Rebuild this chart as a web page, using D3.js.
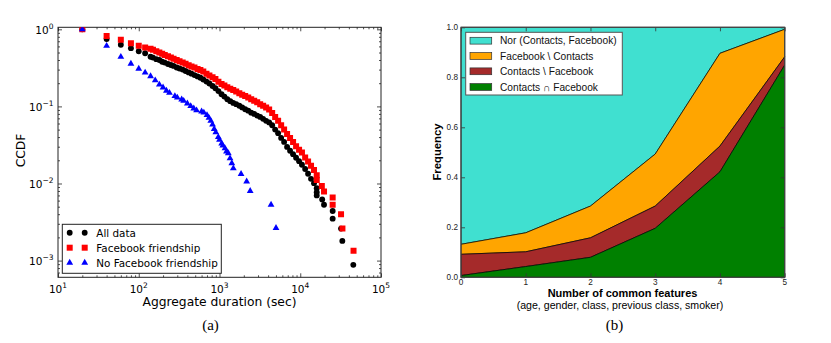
<!DOCTYPE html>
<html><head><meta charset="utf-8">
<script src="https://cdn.jsdelivr.net/npm/d3@7"></script>
<style>body{margin:0;background:#fff}svg{display:block}</style>
</head><body><svg id="c" width="831" height="343"></svg>
<script>
// ---------- Panel (a): CCDF of aggregate contact duration ----------
const allData = [[20,1.0],[40,0.75],[60,0.63],[80,0.57],[100,0.52],[120,0.49],[140,0.44],[150,0.43],[165,0.41],[180,0.40],[195,0.38],[210,0.37],[230,0.355],[250,0.345],[270,0.335],[295,0.32],[320,0.31],[350,0.30],[380,0.288],[415,0.276],[450,0.266],[490,0.255],[535,0.245],[580,0.235],[630,0.223],[690,0.21],[750,0.198],[820,0.184],[890,0.172],[970,0.158],[1060,0.144],[1150,0.134],[1250,0.124],[1360,0.117],[1480,0.111],[1610,0.107],[1760,0.102],[1910,0.097],[2080,0.092],[2270,0.088],[2470,0.083],[2690,0.080],[2930,0.076],[3190,0.073],[3470,0.069],[3780,0.065],[4120,0.062],[4490,0.057],[4890,0.050],[5320,0.045],[5800,0.039],[6310,0.0346],[6870,0.0298],[7480,0.0266],[8150,0.024],[8880,0.0216],[9670,0.0195],[10500,0.0175],[11500,0.0154],[12500,0.0134],[13600,0.0115],[14800,0.0101],[16000,0.0087],[16000,0.0077],[16000,0.0070],[18700,0.0062],[19700,0.0053],[25200,0.0044],[25200,0.0035],[32000,0.0026],[33200,0.0018],[45400,0.00088]];
const facebookFriendship = [[20,1.0],[40,0.82],[60,0.73],[80,0.66],[100,0.61],[120,0.58],[140,0.56],[150,0.542],[165,0.521],[180,0.499],[195,0.481],[210,0.464],[230,0.448],[250,0.432],[270,0.416],[295,0.399],[320,0.386],[350,0.371],[380,0.357],[415,0.343],[450,0.330],[490,0.319],[535,0.306],[580,0.297],[630,0.284],[690,0.266],[750,0.252],[820,0.239],[890,0.227],[970,0.209],[1060,0.195],[1150,0.187],[1250,0.177],[1360,0.170],[1480,0.163],[1610,0.156],[1760,0.148],[1910,0.142],[2080,0.136],[2270,0.130],[2470,0.124],[2690,0.118],[2930,0.113],[3190,0.107],[3470,0.102],[3780,0.097],[4120,0.091],[4490,0.082],[4890,0.073],[5320,0.065],[5800,0.057],[6310,0.050],[6870,0.044],[7480,0.039],[8150,0.0345],[8880,0.0305],[9670,0.0275],[10500,0.0252],[11500,0.0217],[12500,0.0193],[13600,0.0170],[14800,0.0150],[16000,0.0128],[16000,0.0111],[18500,0.0093],[19700,0.0079],[25200,0.0066],[25200,0.0053],[32000,0.0040],[33300,0.0026],[45700,0.00134]];
const noFacebookFriendship = [[20,1.0],[40,0.61],[60,0.44],[80,0.358],[100,0.308],[120,0.274],[140,0.246],[160,0.218],[180,0.192],[200,0.176],[220,0.160],[240,0.150],[280,0.136],[300,0.130],[340,0.123],[360,0.118],[400,0.109],[440,0.101],[480,0.094],[520,0.089],[600,0.086],[640,0.083],[700,0.077],[740,0.071],[780,0.065],[820,0.058],[860,0.051],[900,0.046],[966,0.040],[1000,0.037],[1064,0.033],[1100,0.031],[1170,0.0286],[1220,0.026],[1285,0.0247],[1350,0.0212],[1420,0.0183],[1483,0.0157],[1850,0.0133],[2170,0.0106],[2400,0.0080],[4350,0.0053],[5010,0.00265]];
const xExponents = [1,2,3,4,5];
const yExponents = [0,-1,-2,-3];
const seriesA = ["All data","Facebook friendship","No Facebook friendship"];

// ---------- Panel (b): stacked frequencies ----------
const commonFeatures = [0,1,2,3,4,5];
const contactsAndFacebook = [0.007,0.043,0.080,0.196,0.422,0.849];
const contactsNotFacebook = [0.085,0.059,0.078,0.089,0.103,0.033];
const facebookNotContacts = [0.040,0.076,0.127,0.208,0.371,0.110];
const neitherContactsNorFacebook = commonFeatures.map((_,i)=>1-contactsAndFacebook[i]-contactsNotFacebook[i]-facebookNotContacts[i]);
const seriesB = ["Nor (Contacts, Facebook)","Facebook \\ Contacts","Contacts \\ Facebook","Contacts \u2229 Facebook"];
const yTicksB = [0,0.2,0.4,0.6,0.8,1.0];

const svg = d3.select("#c");
const SANS = "DejaVu Sans, sans-serif";
const ARIAL = "Liberation Sans, Arial, sans-serif";

// ===== Panel (a) =====
const L = {x0:58, x1:381, y0:27.3, y1:277.3};
const xL = d3.scaleLog().domain([10,1e5]).range([L.x0,L.x1]);
const yL = d3.scaleLog().domain([0.000607,1.062]).range([L.y1,L.y0]);
const gA = svg.append("g");

function minors(lo,hi){const out=[];for(let e=-4;e<=5;e++)for(let k=2;k<=9;k++){const v=k*Math.pow(10,e);if(v>lo&&v<hi)out.push(v);}return out;}
const xMaj = xExponents.map(e=>Math.pow(10,e));
const yMaj = yExponents.map(e=>Math.pow(10,e));
const xMin = minors(10,1e5), yMin = minors(0.000607,1.062);

function drawAxis(g, axisFn, scale, vals, size, tf){
  const a = g.append("g").attr("transform",tf).call(axisFn(scale).tickValues(vals).tickSize(-size).tickSizeOuter(0).tickFormat(""));
  a.select(".domain").remove();
  a.selectAll("line").attr("stroke","#222").attr("stroke-width",0.8);
}
[[xMaj,4],[xMin,2]].forEach(([v,s])=>{
  drawAxis(gA,d3.axisBottom,xL,v,s,`translate(0,${L.y1})`);
  drawAxis(gA,d3.axisTop,xL,v,s,`translate(0,${L.y0})`);
});
[[yMaj,4],[yMin,2]].forEach(([v,s])=>{
  drawAxis(gA,d3.axisLeft,yL,v,s,`translate(${L.x0},0)`);
  drawAxis(gA,d3.axisRight,yL,v,s,`translate(${L.x1},0)`);
});
gA.append("rect").attr("x",L.x0).attr("y",L.y0).attr("width",L.x1-L.x0).attr("height",L.y1-L.y0)
  .attr("fill","none").attr("stroke","#222").attr("stroke-width",1);

function sup(t, exp){
  t.append("tspan").text("10");
  t.append("tspan").attr("dy",-5).attr("font-size",7.5).text(String(exp).replace("-","\u2212"));
}
xExponents.forEach(e=>{
  const t = gA.append("text").attr("x",xL(Math.pow(10,e))).attr("y",293).attr("text-anchor","middle")
    .attr("font-family",SANS).attr("font-size",10.5).attr("fill","#000");
  sup(t,e);
});
yExponents.forEach(e=>{
  const t = gA.append("text").attr("x",53.5).attr("y",yL(Math.pow(10,e))+4.5).attr("text-anchor","end")
    .attr("font-family",SANS).attr("font-size",10.5).attr("fill","#000");
  sup(t,e);
});
gA.append("text").attr("x",219.5).attr("y",305.5).attr("text-anchor","middle").attr("font-family",SANS)
  .attr("font-size",12.3).text("Aggregate duration (sec)");
gA.append("text").attr("transform","translate(25,150.5) rotate(-90)").attr("text-anchor","middle")
  .attr("font-family",SANS).attr("font-size",12.3).text("CCDF");
gA.append("text").attr("x",210.5).attr("y",330).attr("text-anchor","middle").attr("font-family","Liberation Serif, serif")
  .attr("font-size",15).text("(a)");

const clipA = svg.append("clipPath").attr("id","clipA").append("rect")
  .attr("x",L.x0).attr("y",L.y0).attr("width",L.x1-L.x0).attr("height",L.y1-L.y0);
const marks = gA.append("g").attr("clip-path","url(#clipA)");
const circ = d3.symbol(d3.symbolCircle, 27);
const sq = d3.symbol(d3.symbolSquare, 36);
const tri = d3.symbol(d3.symbolTriangle, 20);
const styles = [
  {data:allData, sym:circ, color:"#000000"},
  {data:facebookFriendship, sym:sq, color:"#ff0000"},
  {data:noFacebookFriendship, sym:tri, color:"#0000ff"}
];
styles.forEach(s=>{
  marks.append("g").selectAll("path").data(s.data).join("path")
    .attr("d",s.sym).attr("fill",s.color)
    .attr("transform",d=>`translate(${xL(d[0])},${yL(d[1])})`);
});
// legend (a)
const lg = gA.append("g");
lg.append("rect").attr("x",62.3).attr("y",224.3).attr("width",159).attr("height",49)
  .attr("fill","#fff").attr("stroke","#222").attr("stroke-width",1);
const legRowsA = [232.7,247.7,262.7];
styles.forEach((s,i)=>{
  [69.7,84.7].forEach(x=>lg.append("path").attr("d",s.sym).attr("fill",s.color)
    .attr("transform",`translate(${x},${legRowsA[i]})`));
  lg.append("text").attr("x",96.3).attr("y",legRowsA[i]+4).attr("font-family",SANS).attr("font-size",10.4)
    .text(seriesA[i]);
});

// ===== Panel (b) =====
const R = {x0:461, x1:784.7, y0:27.3, y1:277.3};
const xR = d3.scaleLinear().domain([0,5]).range([R.x0,R.x1]);
const yR = d3.scaleLinear().domain([0,1]).range([R.y1,R.y0]);
const gB = svg.append("g");
const table = commonFeatures.map((f,i)=>({f, both:contactsAndFacebook[i], cOnly:contactsNotFacebook[i], fOnly:facebookNotContacts[i], nor:neitherContactsNorFacebook[i]}));
const keys = ["both","cOnly","fOnly","nor"];
const colors = {both:"#008000", cOnly:"#a52a2a", fOnly:"#ffa500", nor:"#40e0d0"};
const stacked = d3.stack().keys(keys)(table);
const area = d3.area().x(d=>xR(d.data.f)).y0(d=>yR(d[0])).y1(d=>yR(d[1]));
gB.append("g").selectAll("path").data(stacked.slice().reverse()).join("path")
  .attr("d",area).attr("fill",d=>colors[d.key]).attr("stroke","#000").attr("stroke-width",0.7);

function drawAxisB(axisFn, scale, vals, tf){
  const a = gB.append("g").attr("transform",tf).call(axisFn(scale).tickValues(vals).tickSize(-4).tickSizeOuter(0).tickFormat(""));
  a.select(".domain").remove();
  a.selectAll("line").attr("stroke","#333").attr("stroke-width",0.8);
}
drawAxisB(d3.axisBottom,xR,commonFeatures,`translate(0,${R.y1})`);
drawAxisB(d3.axisTop,xR,commonFeatures,`translate(0,${R.y0})`);
drawAxisB(d3.axisLeft,yR,yTicksB,`translate(${R.x0},0)`);
drawAxisB(d3.axisRight,yR,yTicksB,`translate(${R.x1},0)`);
gB.append("rect").attr("x",R.x0).attr("y",R.y0).attr("width",R.x1-R.x0).attr("height",R.y1-R.y0)
  .attr("fill","none").attr("stroke","#444").attr("stroke-width",1.2);
yTicksB.forEach(v=>gB.append("text").attr("x",458).attr("y",yR(v)+3).attr("text-anchor","end")
  .attr("font-family",ARIAL).attr("font-size",8.2).attr("fill","#222").text(v.toFixed(1)));
commonFeatures.forEach(v=>gB.append("text").attr("x",xR(v)).attr("y",285.2).attr("text-anchor","middle")
  .attr("font-family",ARIAL).attr("font-size",8.2).attr("fill","#222").text(v));
gB.append("text").attr("x",622.5).attr("y",297.2).attr("text-anchor","middle").attr("font-family",ARIAL)
  .attr("font-weight","bold").attr("font-size",11).text("Number of common features");
gB.append("text").attr("x",620).attr("y",309.3).attr("text-anchor","middle").attr("font-family",ARIAL)
  .attr("font-size",10.6).text("(age, gender, class, previous class, smoker)");
gB.append("text").attr("transform","translate(440.5,152) rotate(-90)").attr("text-anchor","middle")
  .attr("font-family",ARIAL).attr("font-weight","bold").attr("font-size",11.3).text("Frequency");
gB.append("text").attr("x",614.5).attr("y",330).attr("text-anchor","middle").attr("font-family","Liberation Serif, serif")
  .attr("font-size",15).text("(b)");
// legend (b)
const lgB = gB.append("g");
lgB.append("rect").attr("x",465.7).attr("y",32.3).attr("width",156.6).attr("height",62.7)
  .attr("fill","#fff").attr("stroke","#555").attr("stroke-width",1);
const legRowsB = [40.7,56,71.3,87];
["nor","fOnly","cOnly","both"].forEach((k,i)=>{
  lgB.append("rect").attr("x",470).attr("y",legRowsB[i]-3.4).attr("width",21.7).attr("height",6.8)
    .attr("fill",colors[k]).attr("stroke","#333").attr("stroke-width",0.7);
  lgB.append("text").attr("x",500).attr("y",legRowsB[i]+3.6).attr("font-family",ARIAL).attr("font-size",10.2)
    .attr("fill","#111").text(seriesB[i]);
});
</script></body></html>
